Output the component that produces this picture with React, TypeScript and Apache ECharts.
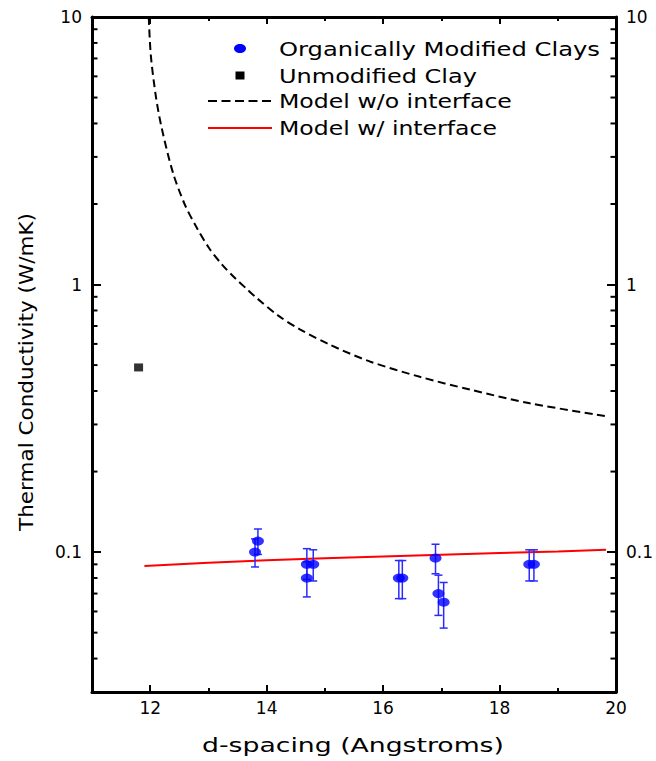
import React, { useEffect, useRef } from "react";
import * as echarts from "echarts";

// ---------------- data ----------------
const organicX = [13.85, 13.8, 14.69, 14.69, 14.8, 16.27, 16.33, 16.9, 16.95, 17.04, 18.51, 18.59];
const organicY = [0.11, 0.1, 0.09, 0.08, 0.09, 0.08, 0.08, 0.095, 0.07, 0.065, 0.09, 0.09];
const organicLo = [0.098, 0.088, 0.079, 0.068, 0.078, 0.067, 0.067, 0.083, 0.058, 0.052, 0.078, 0.078];
const organicHi = [0.122, 0.112, 0.103, 0.092, 0.102, 0.093, 0.093, 0.107, 0.082, 0.077, 0.102, 0.102];

const unmodX = [11.8];
const unmodY = [0.49];

const noIfX = [11.975, 12.01, 12.1, 12.2, 12.39, 12.59, 12.8, 13.01, 13.23, 13.45, 13.66, 13.83, 14.2, 14.57, 15.09, 15.77, 16.63, 17.49, 18.52, 19.83];
const noIfY = [10, 7.2, 5.0, 3.82, 2.62, 2.0, 1.63, 1.37, 1.19, 1.06, 0.962, 0.89, 0.765, 0.68, 0.595, 0.516, 0.452, 0.405, 0.36, 0.322];

const withIfX = [11.9, 13, 14, 15, 16, 17, 18, 19, 19.83];
const withIfY = [0.0887, 0.0912, 0.0932, 0.0948, 0.0962, 0.0978, 0.0992, 0.1006, 0.102];

const yMinorTicks = [0.04, 0.05, 0.06, 0.07, 0.08, 0.09, 0.2, 0.3, 0.4, 0.5, 0.6, 0.7, 0.8, 0.9, 2, 3, 4, 5, 6, 7, 8, 9];

const legendLabels = ["Organically Modified Clays", "Unmodified Clay", "Model w/o interface", "Model w/ interface"];
const xTitle = "d-spacing (Angstroms)";
const yTitle = "Thermal Conductivity (W/mK)";

const X_MIN = 11;
const X_MAX = 20;
const Y_MIN = 0.03;
const Y_MAX = 10;

// ---------------- helpers ----------------
const FONT = "DejaVu Sans";

function measure(text: string, size: number): number {
  const c = document.createElement("canvas").getContext("2d");
  if (!c) return text.length * size * 0.6;
  c.font = `${size}px "${FONT}"`;
  return c.measureText(text).width;
}

function stretchedText(text: string, size: number, target: number, x: number, y: number, align: string, rotation = 0) {
  const w = measure(text, size);
  const s = w > 0 ? target / w : 1;
  return {
    type: "text",
    x,
    y,
    rotation,
    scaleX: s,
    scaleY: 1,
    silent: true,
    style: {
      text,
      fill: "#000",
      font: `${size}px "${FONT}"`,
      align,
      verticalAlign: "middle",
    },
  };
}

export default function App() {
  const ref = useRef<HTMLDivElement>(null);

  useEffect(() => {
    if (!ref.current) return;
    const chart = echarts.init(ref.current, undefined, { renderer: "svg" });

    const black = "#000";
    const axisLine = { show: true, onZero: false, lineStyle: { color: black, width: 3 } };

    const xAxisBase = {
      type: "value",
      min: X_MIN,
      max: X_MAX,
      splitNumber: 5,
      axisLine,
      splitLine: { show: false },
      axisTick: { show: true, inside: true, length: 7, lineStyle: { color: black, width: 2 } },
      minorTick: { show: true, splitNumber: 2, length: 4, lineStyle: { color: black, width: 2 } },
      minorSplitLine: { show: false },
    };

    const yAxisBase = {
      type: "log",
      logBase: 10,
      min: Y_MIN,
      max: Y_MAX,
      axisLine,
      splitLine: { show: false },
      axisTick: { show: true, inside: true, length: 9, lineStyle: { color: black, width: 2 } },
    };

    const labelStyle = { color: black, fontSize: 17, fontFamily: FONT };

    const option: any = {
      animation: false,
      backgroundColor: "#fff",
      grid: { left: 92, top: 17, width: 524, height: 675, containLabel: false, outerBoundsMode: "none" },
      xAxis: [
        { ...xAxisBase, position: "bottom", axisLabel: { ...labelStyle, showMinLabel: false, margin: 7 } },
        { ...xAxisBase, position: "top", axisLabel: { show: false } },
      ],
      yAxis: [
        { ...yAxisBase, position: "left", axisLabel: { ...labelStyle, showMinLabel: false, margin: 10 } },
        { ...yAxisBase, position: "right", axisLabel: { ...labelStyle, showMinLabel: false, margin: 10 } },
      ],
      series: [
        {
          type: "custom",
          name: "minorTicksY",
          silent: true,
          xAxisIndex: 0,
          yAxisIndex: 0,
          z: 5,
          encode: { x: 0, y: 1 },
          data: yMinorTicks.map((v) => [X_MIN, v]),
          renderItem: (_p: any, api: any) => {
            const v = api.value(1);
            const l = api.coord([X_MIN, v]);
            const r = api.coord([X_MAX, v]);
            const st = { stroke: black, lineWidth: 2 };
            return {
              type: "group",
              children: [
                { type: "line", shape: { x1: l[0], y1: l[1], x2: l[0] + 5.5, y2: l[1] }, style: st },
                { type: "line", shape: { x1: r[0] - 5.5, y1: r[1], x2: r[0], y2: r[1] }, style: st },
              ],
            };
          },
        },
        {
          type: "custom",
          name: "errorBars",
          silent: true,
          xAxisIndex: 0,
          yAxisIndex: 0,
          z: 3,
          encode: { x: 0, y: [1, 2] },
          data: organicX.map((x, i) => [x, organicLo[i], organicHi[i]]),
          renderItem: (_p: any, api: any) => {
            const x = api.value(0);
            const lo = api.coord([x, api.value(1)]);
            const hi = api.coord([x, api.value(2)]);
            const st = { stroke: "#2a2aff", lineWidth: 1.5 };
            const cap = 4;
            return {
              type: "group",
              children: [
                { type: "line", shape: { x1: lo[0], y1: lo[1], x2: hi[0], y2: hi[1] }, style: st },
                { type: "line", shape: { x1: lo[0] - cap, y1: lo[1], x2: lo[0] + cap, y2: lo[1] }, style: st },
                { type: "line", shape: { x1: hi[0] - cap, y1: hi[1], x2: hi[0] + cap, y2: hi[1] }, style: st },
              ],
            };
          },
        },
        {
          type: "line",
          name: "Model w/o interface",
          data: noIfX.map((x, i) => [x, noIfY[i]]),
          showSymbol: false,
          symbol: "none",
          smooth: 0.3,
          z: 2,
          lineStyle: { color: black, width: 2, type: [8, 4.5] },
        },
        {
          type: "line",
          name: "Model w/ interface",
          data: withIfX.map((x, i) => [x, withIfY[i]]),
          showSymbol: false,
          symbol: "none",
          z: 2,
          lineStyle: { color: "#ff0000", width: 2 },
        },
        {
          type: "scatter",
          name: "Organically Modified Clays",
          data: organicX.map((x, i) => [x, organicY[i]]),
          symbol: "circle",
          symbolSize: [12, 9],
          z: 4,
          itemStyle: { color: "#0000ff" },
        },
        {
          type: "scatter",
          name: "Unmodified Clay",
          data: unmodX.map((x, i) => [x, unmodY[i]]),
          symbol: "rect",
          symbolSize: [9, 8],
          z: 4,
          itemStyle: { color: black },
        },
      ],
      graphic: [
        // legend
        { type: "ellipse", shape: { cx: 240, cy: 48.5, rx: 6, ry: 4.5 }, style: { fill: "#0000ff" }, silent: true },
        { type: "rect", shape: { x: 235.5, y: 71.5, width: 9, height: 8 }, style: { fill: black }, silent: true },
        { type: "line", shape: { x1: 208, y1: 101, x2: 272, y2: 101 }, style: { stroke: black, lineWidth: 2, lineDash: [9, 4.5] }, silent: true },
        { type: "line", shape: { x1: 208, y1: 128, x2: 272, y2: 128 }, style: { stroke: "#ff0000", lineWidth: 2 }, silent: true },
        stretchedText(legendLabels[0], 20, 321, 279, 48.5, "left"),
        stretchedText(legendLabels[1], 20, 198, 279, 75.5, "left"),
        stretchedText(legendLabels[2], 20, 233, 279, 101.5, "left"),
        stretchedText(legendLabels[3], 20, 218, 279, 128, "left"),
        // axis titles
        stretchedText(xTitle, 20, 302, 353, 745, "center"),
        stretchedText(yTitle, 20, 318, 26, 372, "center", Math.PI / 2),
      ],
    };

    chart.setOption(option);
    return () => chart.dispose();
  }, []);

  return (
    <div
      ref={ref}
      style={{ position: "absolute", left: 0, top: 0, width: 656, height: 761, background: "#fff" }}
    />
  );
}
